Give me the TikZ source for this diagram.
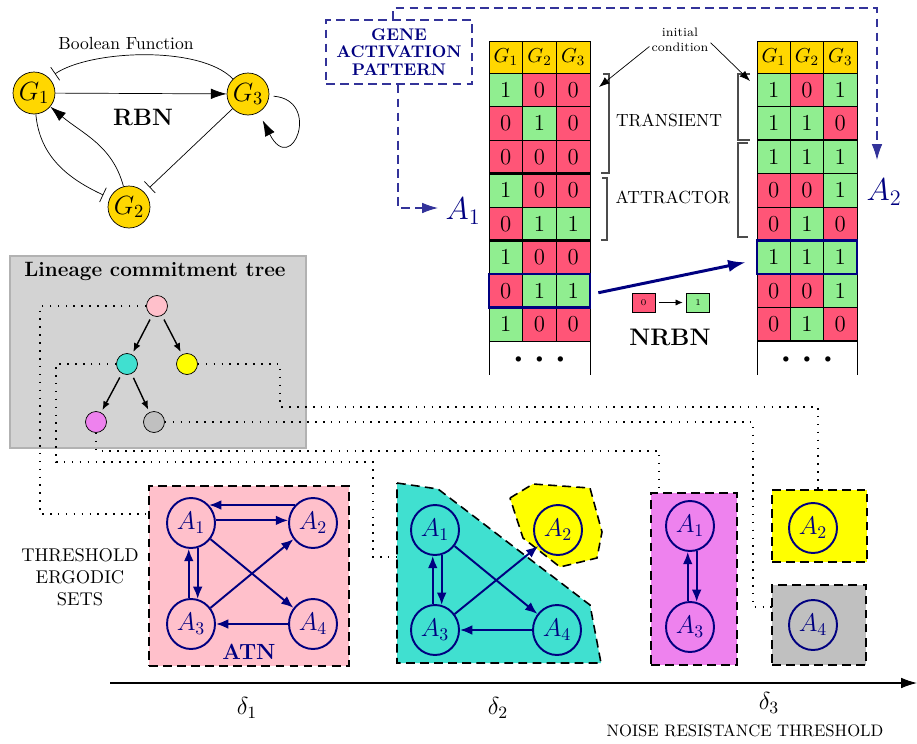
\RequirePackage{fix-cm}
\documentclass[tikz,border=0pt]{standalone}
\usetikzlibrary{arrows.meta,shapes.geometric,calc}
\definecolor{cellred}{HTML}{FF5577}
\definecolor{cellgreen}{HTML}{90EE90}
\definecolor{goldc}{HTML}{FFD700}
\definecolor{navyc}{HTML}{000080}
\definecolor{turq}{HTML}{40E0D0}
\definecolor{violetc}{HTML}{EE82EE}
\definecolor{silverc}{HTML}{C0C0C0}
\definecolor{lgray}{HTML}{D3D3D3}
\definecolor{pinkc}{HTML}{FFC0CB}
\definecolor{yel}{HTML}{FFFF00}
\begin{document}
\begin{tikzpicture}[x=0.02cm,y=-0.02cm,
  gnode/.style={circle,draw,fill=goldc,minimum size=0.84cm,inner sep=0pt,font=\fontsize{15}{17}\selectfont},
  cell/.style={draw,minimum width=0.673cm,minimum height=0.67cm,inner sep=0pt,font=\fontsize{13}{15}\selectfont},
  hdr/.style={draw,fill=goldc,minimum width=0.673cm,minimum height=0.64cm,inner sep=0pt,font=\fontsize{11.5}{13}\selectfont},
  tnode/.style={circle,draw,minimum size=0.42cm,inner sep=0pt},
  anode/.style={ellipse,draw=navyc,line width=1.1pt,minimum width=0.96cm,minimum height=1.0cm,inner sep=0pt,text=navyc,font=\fontsize{14.5}{16}\selectfont},
  aedge/.style={navyc,line width=1.1pt,-{Latex[length=7pt,width=5.5pt]}},
  ergbox/.style={draw,dash pattern=on 5pt off 3pt,line width=0.9pt,inner sep=0pt},
  dotline/.style={line width=0.9pt,dash pattern=on 0.9pt off 3.6pt},
  navydash/.style={navyc!80,line width=0.6pt,dash pattern=on 5pt off 3pt},
  bigtip/.style={-{Latex[length=9pt,width=6pt]}},
  bartip/.style={-{Bar[width=9pt]},shorten >=4pt},
  brk/.style={black!70,line width=0.6pt},
  hl/.style={draw=navyc,line width=1.5pt,minimum height=0.67cm,inner sep=0pt}
]
\useasboundingbox (0,0) rectangle (917,744);

% ---------------- RBN ----------------
\node[gnode] (G1) at (34,93) {$G_1$};
\node[gnode] (G3) at (248,94) {$G_3$};
\node[gnode] (G2) at (129,207) {$G_2$};
\node[font=\fontsize{10}{12}\selectfont] (BF) at (126,43) {Boolean Function};
\node[font=\bfseries\fontsize{13.5}{16}\selectfont] (RBN) at (143,118) {RBN};
\draw[bigtip] (G1) -- (G3);
\draw[bartip] (G3.135) .. controls (200,45) and (90,50) .. (G1.45);
\draw[bartip] (G1) to[out=-85,in=155] (G2);
\draw[bigtip] (G2) to[out=105,in=-40] (G1);
\draw[bartip] (G3) -- (G2);
\draw[bigtip,shorten <=2.5pt,shorten >=5pt] (G3.-5) .. controls (322,100) and (292,178) .. (G3.-60);

% ---------------- Tables ----------------
\foreach \c in {1,2,3} {
  \node[hdr] (LH\c) at ({489+(\c-0.5)*33.67},57) {$G_\c$};
  \node[hdr,minimum width=0.667cm] (RH\c) at ({757+(\c-0.5)*33.33},57) {$G_\c$};
}
\foreach \row [count=\r] in {{1,0,0},{0,1,0},{0,0,0},{1,0,0},{0,1,1},{1,0,0},{0,1,1},{1,0,0}} {
  \foreach \v [count=\c] in \row {
    \ifnum\v=1 \def\cc{cellgreen}\else\def\cc{cellred}\fi
    \node[cell,fill=\cc] (L\r-\c) at ({489+(\c-0.5)*33.67},{73+(\r-0.5)*33.5}) {\v};
  }
}
\foreach \row [count=\r] in {{1,0,1},{1,1,0},{1,1,1},{0,0,1},{0,1,0},{1,1,1},{0,0,1},{0,1,0}} {
  \foreach \v [count=\c] in \row {
    \ifnum\v=1 \def\cc{cellgreen}\else\def\cc{cellred}\fi
    \node[cell,fill=\cc,minimum width=0.667cm] (R\r-\c) at ({757+(\c-0.5)*33.33},{73+(\r-0.5)*33.5}) {\v};
  }
}
\draw[line width=1.6pt] (489,173.5) -- (590,173.5);
\draw[line width=1.6pt] (489,240.5) -- (590,240.5);
\draw[line width=1.6pt] (757,140) -- (857,140);
\draw[line width=1.6pt] (757,240.5) -- (857,240.5);
\draw[line width=1.6pt] (757,341) -- (857,341);
\draw (489,341) -- (489,375);
\draw (590,341) -- (590,375);
\draw (757,341) -- (757,375);
\draw (857,341) -- (857,375);
\node[font=\scriptsize] (Ldots) at (539.5,360) {$\bullet\hspace{6pt}\bullet\hspace{6pt}\bullet$};
\node[font=\scriptsize] (Rdots) at (807,360) {$\bullet\hspace{6pt}\bullet\hspace{6pt}\bullet$};
\node[hl,minimum width=2.02cm] (hlL) at (539.5,290.75) {};
\node[hl,minimum width=2.0cm] (hlR) at (807,257.25) {};

% brackets
\draw[brk] (603,74) -- (609,74) -- (609,173) -- (601,173);
\draw[brk] (602,178) -- (607,178) -- (607,240) -- (601,240);
\draw[brk] (750,74) -- (738,74) -- (738,140) -- (750,140);
\draw[brk] (748,143) -- (738,143) -- (738,237) -- (748,237);
\node[font=\fontsize{10}{12}\selectfont] (TR) at (669,120) {TRANSIENT};
\node[font=\fontsize{10}{12}\selectfont] (AT) at (673,197) {ATTRACTOR};

\node[align=center,font=\fontsize{7}{8.5}\selectfont,inner sep=1pt] (IC) at (680,40) {initial\\condition};
\coordinate (icL) at (599,87);
\coordinate (icR) at (750,81);
\draw[-{Latex[length=6pt,width=4.5pt]}] (IC.192) -- (icL);
\draw[-{Latex[length=6pt,width=4.5pt]}] (IC.-5) -- (icR);

\draw[navyc,line width=1.7pt,-{Latex[length=10pt,width=7pt]}] ($(hlL.east)+(7,2)$) -- ($(hlR.west)+(-10,5)$);

\node[draw,fill=cellred,minimum width=0.46cm,minimum height=0.38cm,inner sep=0pt,font=\tiny] (lg0) at (643.5,302.5) {0};
\node[draw,fill=cellgreen,minimum width=0.46cm,minimum height=0.38cm,inner sep=0pt,font=\tiny] (lg1) at (698,302.5) {1};
\draw[-{Latex[length=4pt,width=3.5pt]},shorten <=2pt,shorten >=2pt] (lg0) -- (lg1);
\node[font=\bfseries\fontsize{13.6}{16}\selectfont] (NRBN) at (670,337) {NRBN};

% gene activation pattern
\node[draw=navyc!80,dash pattern=on 5pt off 3pt,line width=0.6pt,minimum width=2.92cm,minimum height=1.28cm,inner sep=0pt,align=center,text=navyc,font=\bfseries\fontsize{9.6}{10}\selectfont] (GAP) at (399,52) {GENE\\ACTIVATION\\PATTERN};
\coordinate (t2) at (877,160);
\coordinate (t1) at (438,208);
\draw[navydash,bigtip] ([xshift=-0.12cm]GAP.north) |- (877,8) -- (t2);
\draw[navydash,bigtip] ([xshift=-0.02cm]GAP.south) |- (t1);
\node[text=navyc,font=\fontsize{18}{20}\selectfont] (lbA1) at (463,211) {$A_1$};
\node[text=navyc,font=\fontsize{18}{20}\selectfont] (lbA2) at (884,192) {$A_2$};

% ---------------- Lineage tree ----------------
\node[fill=lgray,draw=gray!60,line width=1.3pt,minimum width=5.92cm,minimum height=3.84cm,inner sep=0pt] (TB) at (158,352) {};
\node[font=\bfseries\fontsize{11.8}{14}\selectfont] (TBt) at (155,271) {Lineage commitment tree};
\node[tnode,fill=pinkc] (T1) at (157,306) {};
\node[tnode,fill=turq] (T2) at (127,364) {};
\node[tnode,fill=yel] (T3) at (187,364) {};
\node[tnode,fill=violetc] (T4) at (96,422) {};
\node[tnode,fill=silverc] (T5) at (154,422) {};
\foreach \a/\b in {T1/T2,T1/T3,T2/T4,T2/T5}
  \draw[line width=0.8pt,-{Latex[length=5pt,width=4pt]},shorten <=2.5pt,shorten >=1.5pt] (\a) -- (\b);

% ---------------- ATN boxes ----------------
\node[ergbox,fill=pinkc,minimum width=4cm,minimum height=3.6cm] (PB) at (249,576) {};
\fill[turq] (397,483) -- (438,489) -- (590,605) -- (601,663) -- (397,663) -- cycle;
\draw[dash pattern=on 5pt off 3pt,line width=0.9pt] (397,483) -- (438,489) -- (590,605) -- (601,663) -- (397,663) -- cycle;
\fill[yel] (510,498) -- (533,484) -- (590,488) -- (602,532) -- (597,558) -- (560,567) -- (523,538) -- cycle;
\draw[dash pattern=on 5pt off 3pt,line width=0.9pt] (510,498) -- (533,484) -- (590,488) -- (602,532) -- (597,558) -- (560,567) -- (523,538) -- cycle;
\node[ergbox,fill=violetc,minimum width=1.72cm,minimum height=3.44cm] (VB) at (694,579) {};
\node[ergbox,fill=yel,minimum width=1.9cm,minimum height=1.44cm] (YB) at (819.5,526) {};
\node[ergbox,fill=silverc,minimum width=1.88cm,minimum height=1.6cm] (SB) at (819,625) {};

% dotted connectors
\coordinate (e1) at (148,514);
\coordinate (e2) at (397,557);
\coordinate (e3) at (818,489);
\coordinate (e4) at (772,607);
\coordinate (e5) at (659,494);
\draw[dotline] (T1.west) -| (40,514) -- (e1);
\draw[dotline] (T2.west) -| (56,462) -- (373,462) |- (e2);
\draw[dotline] (T3.east) -| (280,407) -- (818,407) -- (e3);
\draw[dotline] (T5.east) -| (753,607) -- (e4);
\draw[dotline] (T4.south) |- (659,451) -- (e5);

% pink ATN
\node[anode] (PA1) at (191,523) {$A_1$};
\node[anode] (PA2) at (313,523) {$A_2$};
\node[anode] (PA3) at (191,624) {$A_3$};
\node[anode] (PA4) at (313,624) {$A_4$};
\draw[aedge] (PA2.135) -- (PA1.45);
\draw[aedge] (PA1.6) -- (PA2.174);
\draw[aedge] (PA3.95) -- (PA1.265);
\draw[aedge] (PA1.-75) -- (PA3.75);
\draw[aedge] (PA1) -- (PA4);
\draw[aedge] (PA3) -- (PA2);
\draw[aedge] (PA4) -- (PA3);
\node[text=navyc,font=\bfseries\fontsize{12.5}{14}\selectfont] (ATN) at (249,652) {ATN};

% turquoise
\node[anode] (TA1) at (435,530) {$A_1$};
\node[anode] (TA2) at (558,530) {$A_2$};
\node[anode] (TA3) at (435,630) {$A_3$};
\node[anode] (TA4) at (557,630) {$A_4$};
\draw[aedge] (TA3.95) -- (TA1.265);
\draw[aedge] (TA1.-75) -- (TA3.75);
\draw[aedge] (TA1) -- (TA4);
\draw[aedge] (TA3) -- (TA2);
\draw[aedge] (TA4) -- (TA3);

% violet
\node[anode] (VA1) at (690,526) {$A_1$};
\node[anode] (VA3) at (690,627) {$A_3$};
\draw[aedge] (VA3.95) -- (VA1.265);
\draw[aedge] (VA1.-75) -- (VA3.75);

\node[anode] (YA2) at (813,528) {$A_2$};
\node[anode] (SA4) at (813,625) {$A_4$};

\node[align=center,font=\fontsize{10.5}{12.5}\selectfont] (TES) at (80,577) {THRESHOLD\\ERGODIC\\SETS};

% axis
\coordinate (ax0) at (110,683);
\coordinate (ax1) at (917,683);
\draw[line width=0.6pt,bigtip] (ax0) -- (ax1);
\node[font=\fontsize{14}{16}\selectfont] (d1) at (247,708) {$\delta_1$};
\node[font=\fontsize{14}{16}\selectfont] (d2) at (498,708) {$\delta_2$};
\node[font=\fontsize{14}{16}\selectfont] (d3) at (769,703) {$\delta_3$};
\node[font=\fontsize{9.5}{11}\selectfont] (NRT) at (745,731) {NOISE RESISTANCE THRESHOLD};
\end{tikzpicture}
\end{document}
